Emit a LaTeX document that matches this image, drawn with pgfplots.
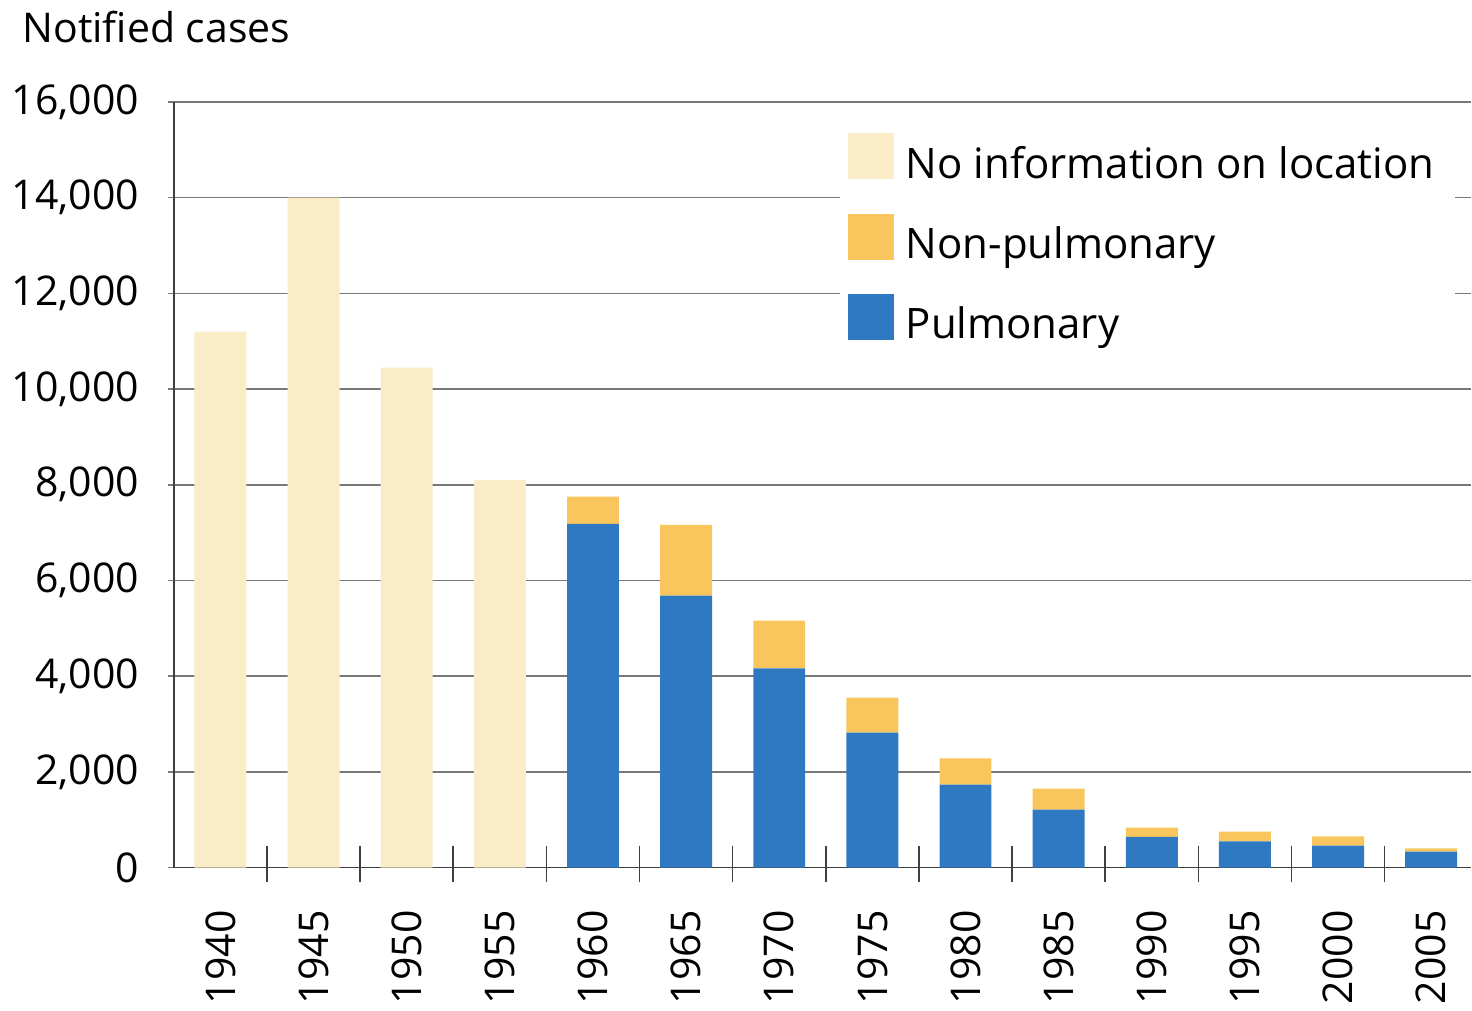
\documentclass[border=0pt]{standalone}
\usepackage{pgfplots}
\pgfplotsset{compat=1.18}
\usepackage{fontspec}
\setmainfont{Open Sans}
\definecolor{noinfo}{RGB}{251,236,200}
\definecolor{nonpulm}{RGB}{248,198,92}
\definecolor{pulm}{RGB}{47,121,194}
\definecolor{pulmedge}{RGB}{30,85,150}
\definecolor{gridc}{RGB}{120,120,120}
\begin{document}
\begin{tikzpicture}
\begin{axis}[
  name=ax,
  scale only axis,
  clip=false,
  width=649pt, height=383pt,
  font=\fontsize{20.5}{24}\selectfont,
  ybar stacked,
  bar width=26pt,
  xmin=-0.5, xmax=13.43,
  ymin=0, ymax=16000,
  ytick={0,2000,...,16000},
  scaled y ticks=false,
  xtick={0,...,13},
  xticklabels={1940,1945,1950,1955,1960,1965,1970,1975,1980,1985,1990,1995,2000,2005},
  xticklabel style={yshift=-15pt, rotate=90, anchor=east},
  x tick style={draw=none},
  y tick style={draw=gridc, line width=0.8pt},
  tick align=outside,
  major tick length=6pt,
  ymajorgrids,
  grid style={draw=gridc, line width=0.8pt},
  axis x line=bottom, axis y line=left,
  axis line style={-, draw=black!75, line width=0.8pt},
  /pgf/number format/1000 sep={,},
  /pgf/number format/assume math mode=true,
  yticklabel style={xshift=-11pt},
  legend style={at={(0.513,0.975)}, anchor=north west, draw=none, fill=white,
    row sep=14.5pt, font=\fontsize{21}{24}\selectfont, inner xsep=4pt, inner ysep=6pt,
    nodes={inner xsep=6pt}},
  legend cell align=left,
  reverse legend,
  legend image code/.code={\fill[#1] (-2pt,-8pt) rectangle (21pt,15pt);},
]
\addplot[fill=pulm, draw=none] coordinates {
 (0,0) (1,0) (2,0) (3,0) (4,7180) (5,5680) (6,4160) (7,2820) (8,1730) (9,1210) (10,640) (11,545) (12,460) (13,330)};
\addlegendentry{Pulmonary}
\addplot[fill=nonpulm, draw=none] coordinates {
 (0,0) (1,0) (2,0) (3,0) (4,570) (5,1480) (6,1000) (7,730) (8,550) (9,440) (10,195) (11,205) (12,190) (13,70)};
\addlegendentry{Non-pulmonary}
\addplot[fill=noinfo, draw=none] coordinates {
 (0,11200) (1,14000) (2,10450) (3,8100) (4,0) (5,0) (6,0) (7,0) (8,0) (9,0) (10,0) (11,0) (12,0) (13,0)};
\addlegendentry{No information on location}
\pgfplotsinvokeforeach{0.5,1.5,...,12.5}{
  \draw[black!75, line width=0.8pt] (axis cs:#1,0) ++(0pt,11pt) -- ++(0pt,-18pt);
}
\end{axis}
\node[anchor=base west, inner sep=0pt, font=\fontsize{20.5}{24}\selectfont] at ([xshift=-76pt, yshift=29.5pt]ax.north west) {Notified cases};
\path ([xshift=-87pt, yshift=-71pt]ax.south west) rectangle ([yshift=51pt]ax.north east);
\end{tikzpicture}
\end{document}
